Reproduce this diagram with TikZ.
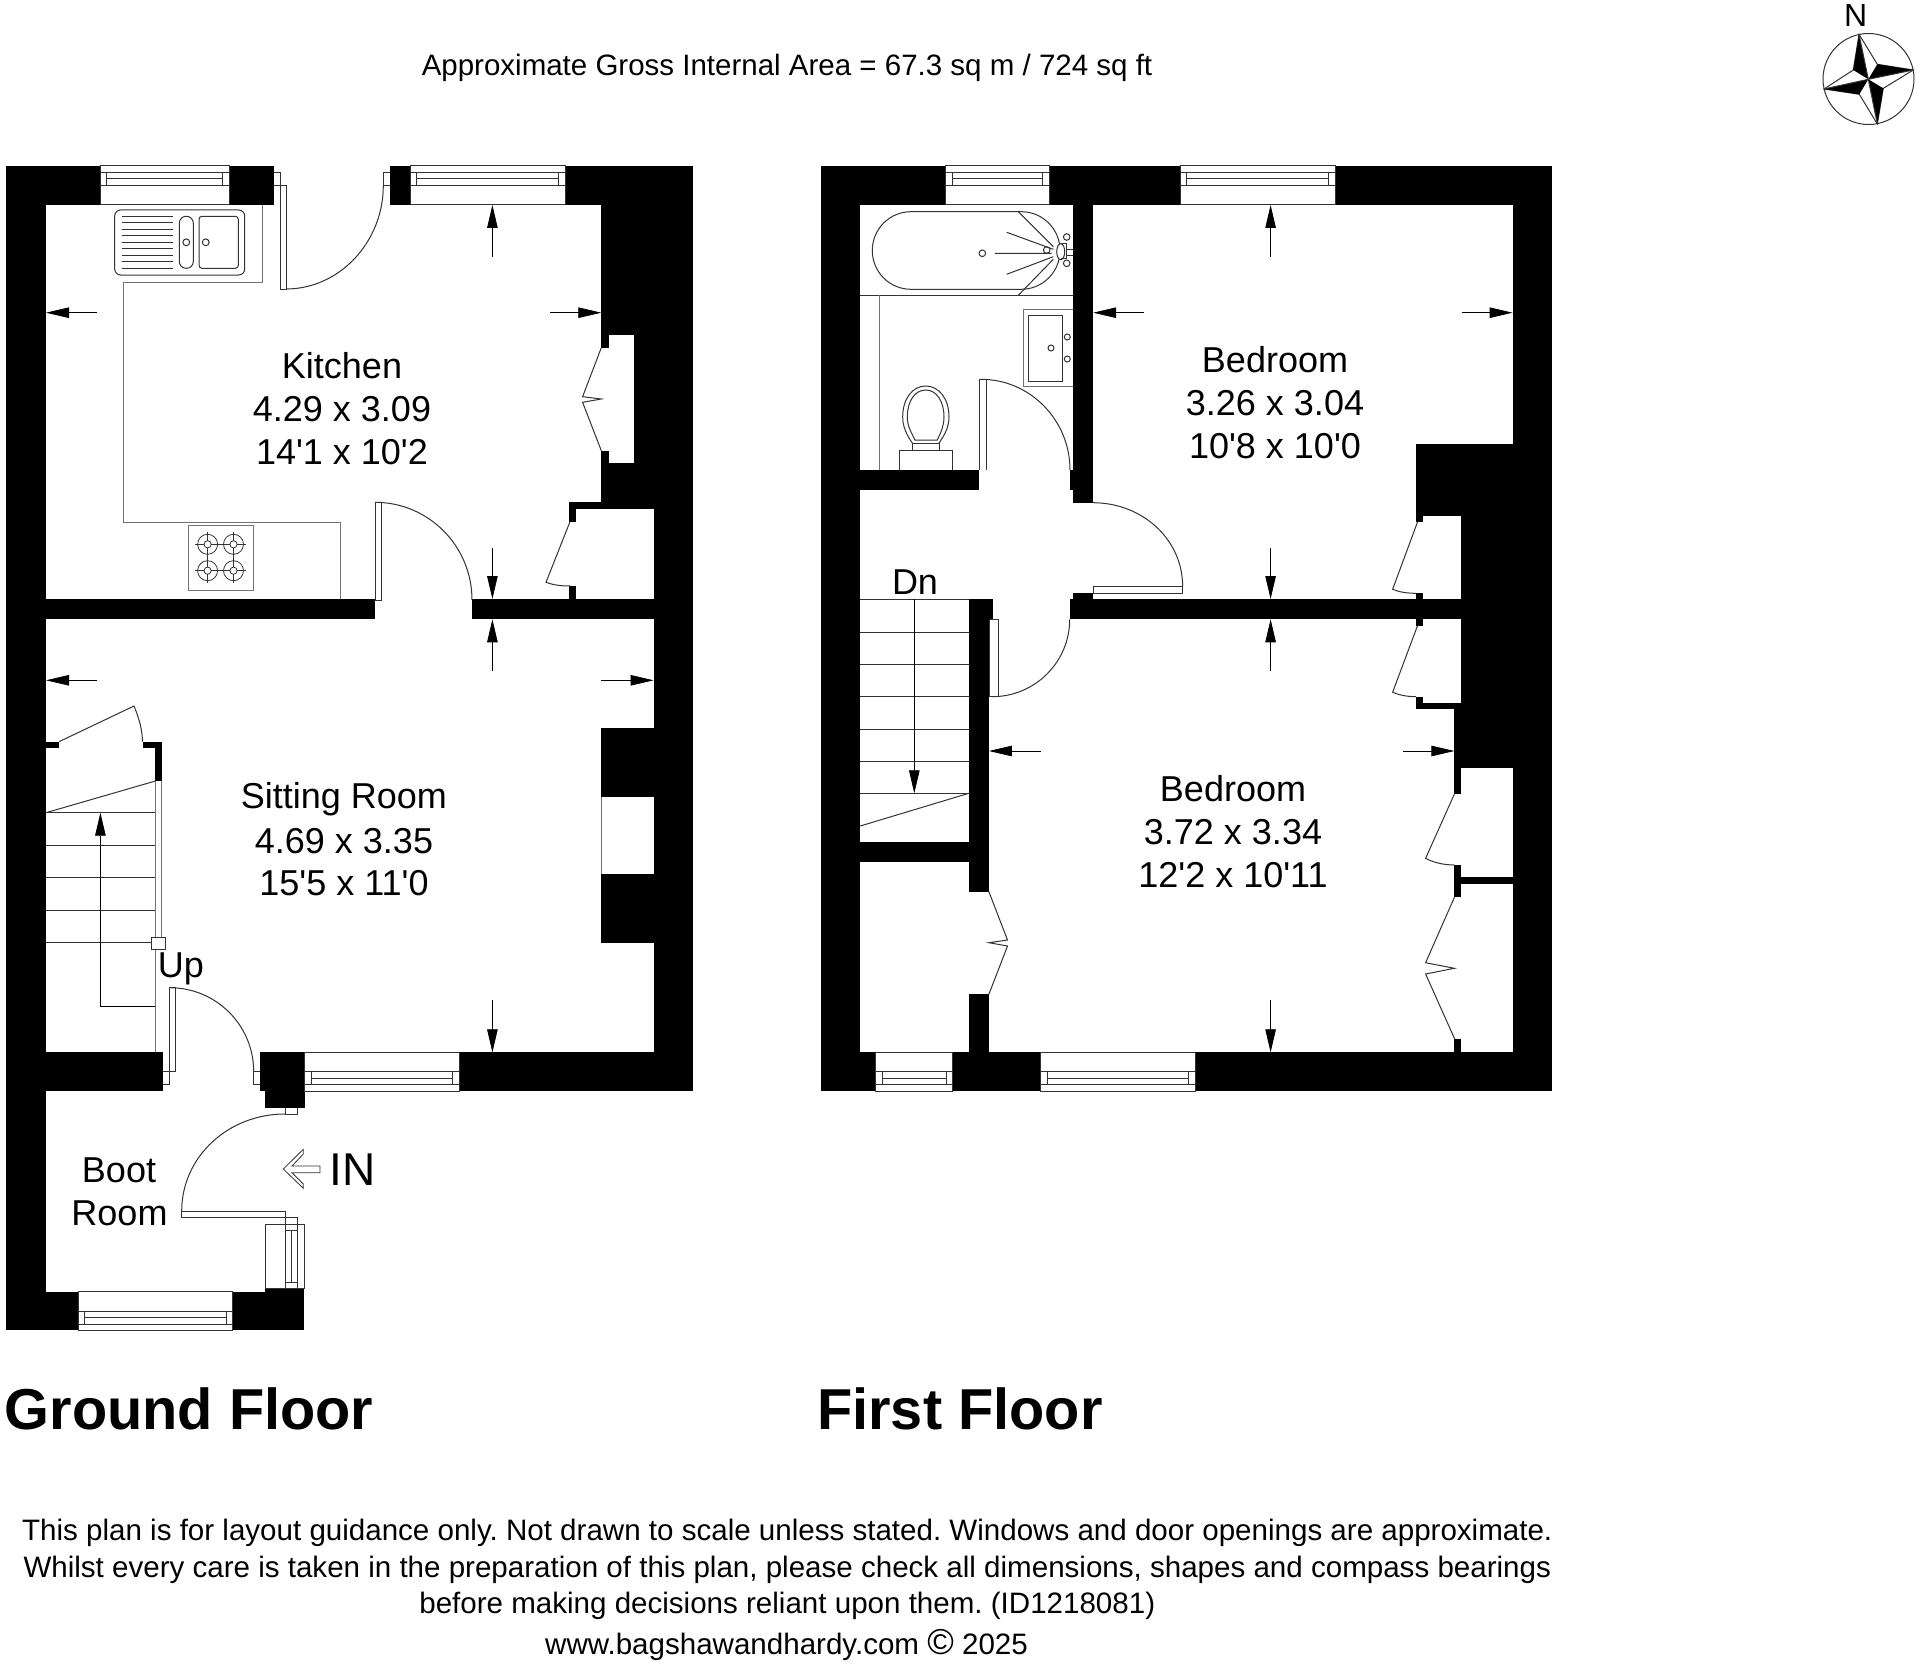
\documentclass[tikz,border=0pt]{standalone}
\usepackage{fontspec}
\setmainfont{Liberation Sans}[Ligatures=TeXOff]
\usetikzlibrary{arrows.meta}
\tikzset{
  ln/.style={line width=1pt,draw=black!80},
  lg/.style={line width=1pt,draw=black!55},
  dim/.style={line width=0.8pt,draw=black,-{Triangle[length=23pt,width=10.5pt,fill=black]}},
  room/.style={font=\fontsize{36}{36}\selectfont,inner sep=0pt,anchor=center},
  foot/.style={font=\fontsize{29.55}{29.55}\selectfont\frenchspacing,inner sep=0pt,anchor=center},
  floorlab/.style={font=\fontsize{57.7}{57.7}\selectfont\bfseries,inner sep=0pt,anchor=west},
}
\newcommand{\blk}[4]{\fill[black] (#1,#2) rectangle (#3,#4);}
% window in a top wall
\newcommand{\winT}[2]{%
  \draw[ln] (#1,165.7) rectangle (#2,205);
  \draw[ln] (#1,172.3)--(#2,172.3) (#1,185.7)--(#2,185.7);
  \draw[ln] (#1+6.5,178.7)--(#2-6.5,178.7);
  \draw[ln] (#1+6.5,172.3)--(#1+6.5,185.7) (#2-6.5,172.3)--(#2-6.5,185.7);}
% window in a bottom wall
\newcommand{\winB}[4]{%
  \draw[ln] (#1,#3) rectangle (#2,#4);
  \draw[ln] (#1,#4-19.3)--(#2,#4-19.3) (#1,#4-6.3)--(#2,#4-6.3);
  \draw[ln] (#1+6.5,#4-12.7)--(#2-6.5,#4-12.7);
  \draw[ln] (#1+6.5,#4-19.3)--(#1+6.5,#4-6.3) (#2-6.5,#4-19.3)--(#2-6.5,#4-6.3);}
\newcommand{\burner}[2]{%
  \draw[ln,line width=0.8pt] (#1,#2) circle (10) (#1,#2) circle (3.6);
  \draw[ln,line width=0.8pt] (#1-12.5,#2)--(#1-3.6,#2) (#1+3.6,#2)--(#1+12.5,#2) (#1,#2-12.5)--(#1,#2-3.6) (#1,#2+3.6)--(#1,#2+12.5);}
\begin{document}
\begin{tikzpicture}[x=1pt,y=-1pt]
\useasboundingbox (0,0) rectangle (1920,1664);
\fill[white] (0,0) rectangle (1920,1664);

% ---------- Ground floor walls
\blk{6.3}{165.7}{46}{1330.3}
\blk{6.3}{165.7}{100.4}{205}
\blk{229}{165.7}{274}{205}
\blk{389.7}{165.7}{410}{205}
\blk{565}{165.7}{693}{205}
\blk{601.3}{205}{693}{335}
\blk{634}{335}{693}{463.3}
\blk{601.3}{335}{609}{347.7}
\blk{601.3}{450.7}{609}{463.3}
\blk{601.3}{463.3}{693}{502.3}
\blk{569}{502.3}{693}{509.3}
\blk{569}{509.3}{576}{521.7}
\blk{569}{586}{576}{600}
\blk{653.6}{509.3}{693}{1091}
\blk{6.3}{599}{375}{619.3}
\blk{472}{599}{693}{619.3}
\blk{601.3}{728.3}{653.6}{797.3}
\blk{601.3}{874}{653.6}{942.7}
\blk{6.3}{1052.3}{163.4}{1091}
\blk{260}{1052.3}{304.7}{1091}
\blk{265}{1091}{304.7}{1107.7}
\blk{459.4}{1052.3}{693}{1091}
\blk{6.7}{1291.7}{78}{1330.3}
\blk{232.7}{1291.7}{304.3}{1330.3}
\blk{265.3}{1288.7}{304.3}{1291.7}
\blk{46}{741.7}{59}{748.3}
\blk{142.9}{741.7}{162}{748.3}
\blk{155.4}{748.3}{162}{781}

% windows
\winT{100.4}{229}
\winT{410}{565}
\winB{304.7}{459.4}{1052.3}{1091}
\winB{78}{232.7}{1291.7}{1330.3}

% worktop
\draw[lg] (262.5,205)--(262.5,282.7)--(123.2,282.7)--(123.2,522)--(340,522)--(340,599);
% sink
\draw[ln,rounded corners=6pt] (114.7,210) rectangle (244.7,275);
\draw[ln] (121.7,216.7)--(173.3,216.7) (121.7,223)--(173.3,223) (121.7,229.7)--(173.3,229.7) (121.7,236)--(173.3,236) (121.7,242.3)--(173.3,242.3) (121.7,248.7)--(173.3,248.7) (121.7,255.3)--(173.3,255.3) (121.7,261.7)--(173.3,261.7) (121.7,268)--(173.3,268);
\draw[ln,rounded corners=6.8pt] (179.3,216.3) rectangle (193.3,268.3);
\draw[ln,rounded corners=3pt] (199,216.3) rectangle (238.3,268.3);
\draw[ln] (186.3,242.3) circle (3.4) (205.7,242.3) circle (3.4);
% hob
\draw[lg] (188.4,525.3) rectangle (253.6,590);
\burner{207.6}{544.3}\burner{233.5}{544.3}\burner{207.6}{570.7}\burner{233.5}{570.7}
\draw[ln,line width=0.8pt] (217.6,544.3)--(223.5,544.3) (217.6,570.7)--(223.5,570.7) (207.6,554.3)--(207.6,560.7) (233.5,554.3)--(233.5,560.7);

% kitchen back door
\draw[ln] (273.7,172.3)--(280,172.3)--(280,289)--(286.3,289)--(286.3,185.7)--(273.7,185.7);
\draw[ln] (286,289) .. controls (339.5,289) and (383.3,242) .. (383.3,185.7);
\draw[ln] (383.3,172.3)--(389.7,172.3) (383.3,172.3)--(383.3,185.7)--(389.7,185.7);
% kitchen to sitting door
\draw[ln] (375,502.3)--(381.7,502.3)--(381.7,600)--(375,600)--cycle;
\draw[ln] (375,502.3) .. controls (428.6,502.3) and (472,546) .. (472,600);
% kitchen cupboards
\draw[ln] (601.3,347.7)--(582.6,396.7)--(601.3,399)--(582.6,402.3)--(601.3,450.7);
\draw[ln] (570,521.7)--(546,582.3) .. controls (553,585) and (561,586) .. (570,586);

% fireplace
\draw[lg] (601.3,797.3)--(601.3,874);
% stairs
\draw[lg] (155.4,781)--(155.4,937.7) (161.6,781)--(161.6,937.7) (155.4,949)--(155.4,1052.3);
\draw[ln] (151.8,937.7) rectangle (165.2,949);
\draw[ln] (46,812.7)--(155.4,781);
\draw[ln] (46,812.7)--(155.4,812.7) (46,845.3)--(155.4,845.3) (46,877.7)--(155.4,877.7) (46,910)--(155.4,910) (46,942.3)--(151.8,942.3);
\draw[dim] (155.4,1006)--(100.4,1006)--(100.4,812.7);
\draw[ln] (59,741.7)--(134,706) .. controls (139,718) and (142.4,730) .. (142.4,741.7);
% door to boot room
\draw[ln] (163.4,1071.7)--(175.9,1071.7)--(175.9,987.7)--(169.8,987.7)--(169.8,1084.3)--(163.4,1084.3);
\draw[ln] (169.8,987.7) .. controls (216,987.7) and (253.7,1025) .. (253.7,1071.7);
\draw[ln] (260,1071.7)--(253.7,1071.7)--(253.7,1084.3)--(260,1084.3);
% boot room door
\draw[ln] (285,1107.7)--(285,1114)--(297.3,1114)--(297.3,1107.7);
\draw[ln] (285,1114) .. controls (228,1114) and (181.7,1157) .. (181.7,1211);
\draw[ln] (181.7,1211)--(285,1211)--(285,1288.7) (181.7,1211)--(181.7,1217.3)--(285,1217.3) (285,1217.7)--(297.3,1217.7)--(297.3,1288.7);
% boot room side window
\draw[ln] (265.3,1224) rectangle (304.3,1288.7);
\draw[ln] (291,1230)--(291,1282.3) (285,1230)--(297.3,1230) (285,1282.3)--(297.3,1282.3);

% IN arrow
\draw[ln,line width=0.8pt] (283.3,1169)--(303.3,1149.3)--(303.3,1154)--(292,1166)--(320,1166)--(320,1172.7)--(292,1172.7)--(303.3,1184)--(303.3,1188.3)--cycle;

% dimension arrows: ground
\coordinate (ka) at (492.4,256.7); \coordinate (kb) at (492.4,205); \draw[dim] (ka)--(kb);
\coordinate (kc) at (97.3,312.7); \coordinate (kd) at (46,312.7); \draw[dim] (kc)--(kd);
\coordinate (ke) at (550.4,312.7); \coordinate (kf) at (601.3,312.7); \draw[dim] (ke)--(kf);
\coordinate (kg) at (492.4,547.7); \coordinate (kh) at (492.4,599); \draw[dim] (kg)--(kh);
\coordinate (sa) at (492.4,671); \coordinate (sb) at (492.4,619.3); \draw[dim] (sa)--(sb);
\coordinate (sc) at (97.3,680.3); \coordinate (sd) at (46,680.3); \draw[dim] (sc)--(sd);
\coordinate (se) at (601.3,680.3); \coordinate (sf) at (653.6,680.3); \draw[dim] (se)--(sf);
\coordinate (sg) at (492.4,1000); \coordinate (sh) at (492.4,1052.3); \draw[dim] (sg)--(sh);

% ---------- First floor walls
\blk{820.5}{165.7}{860.2}{1091}
\blk{820.5}{165.7}{945.8}{205}
\blk{1049.2}{165.7}{1180.2}{205}
\blk{1335.2}{165.7}{1552.3}{205}
\blk{1512.6}{205}{1552.3}{444}
\blk{1416}{444}{1552.3}{515.7}
\blk{1461}{515.7}{1552.3}{709.3}
\blk{1416}{702.7}{1461}{709.3}
\blk{1416}{515.7}{1423.2}{521.7}
\blk{1416}{593}{1423.2}{599}
\blk{1069.7}{599}{1552.3}{619.3}
\blk{1416}{619.3}{1423.2}{625.7}
\blk{1416}{696.7}{1423.2}{702.7}
\blk{1454.4}{709.3}{1552.3}{767.7}
\blk{1454.4}{767.7}{1461}{794}
\blk{1454.4}{865}{1461}{897.3}
\blk{1461}{877.3}{1512.6}{884.3}
\blk{1454.4}{1039.3}{1461}{1052.3}
\blk{1512.6}{767.7}{1552.3}{1091}
\blk{1072.6}{205}{1093.2}{502.7}
\blk{1069.7}{470}{1072.6}{490}
\blk{860}{470}{979.3}{490}
\blk{1072.6}{592.7}{1093.2}{599}
\blk{968.8}{599.3}{992.7}{619.3}
\blk{968.8}{619.3}{988.9}{891.7}
\blk{968.8}{994.3}{988.9}{1052.3}
\blk{860}{842.3}{968.8}{862.3}
\blk{820.5}{1052.3}{875.5}{1091}
\blk{952.5}{1052.3}{1040.5}{1091}
\blk{1195}{1052.3}{1552.3}{1091}
% windows
\winT{945.8}{1049.2}
\winT{1180.2}{1335.2}
\winB{875.5}{952.5}{1052.3}{1091}
\winB{1040.5}{1195}{1052.3}{1091}

% bathroom
\draw[ln] (860.2,295.3)--(1072.6,295.3);
\draw[lg] (879,295.3)--(879,470);
\draw[ln,rounded corners=38.7pt] (872.3,211.7) rectangle (1060,289.3);
\draw[ln] (1018.3,211.7)--(1053.3,246.7) (1006.7,232.3)--(1053.3,249.3) (995,253.3)--(1051.7,253.3) (1006.7,274.3)--(1053.3,256.7) (1018.3,295.3)--(1053.3,259.3);
\draw[ln] (982.3,253.3) circle (3.3) (1046.7,250) circle (3.3) (1066.7,237) circle (3.3) (1066.7,263.3) circle (3.3);
\fill[white] (1060.7,251.7) ellipse (4 and 8);
\draw[ln] (1060.7,251.7) ellipse (4 and 8);
\draw[ln] (1060.7,243.3)--(1066.7,243.3)--(1066.7,258.3)--(1060.7,258.3);
\draw[ln] (1066.7,250)--(1072.6,250) (1066.7,255.7)--(1072.6,255.7);
% basin
\draw[lg] (1072.6,309.3)--(1023.7,309.3)--(1023.7,386.7)--(1072.6,386.7);
\draw[ln] (1028.7,315) rectangle (1062,381.7);
\draw[ln] (1067.3,337) circle (3) (1067.3,359) circle (3) (1051,348) circle (3);
% WC
\draw[ln] (899.7,470)--(899.7,450.7)--(952,450.7)--(952,470);
\draw[ln] (912.3,450.7)--(912.3,443) (939,450.7)--(939,443) (912.3,443)--(939,443);
\draw[ln] (912.3,443) .. controls (906,434) and (902.7,426) .. (902.7,417) .. controls (902.7,398) and (913,386) .. (925.7,386) .. controls (938.4,386) and (949,398) .. (949,417) .. controls (949,426) and (945.5,434) .. (939,443);
\draw[ln] (915,440) .. controls (911,432) and (907.3,426) .. (907.3,417) .. controls (907.3,401) and (915,390) .. (925.7,390) .. controls (936.4,390) and (944,401) .. (944,417) .. controls (944,426) and (941,432) .. (937.3,440) -- cycle;
% bathroom door
\draw[ln] (979.3,470)--(979.3,379.3)--(986,379.3)--(986,470);
\draw[ln] (981,379.3) .. controls (1030,379.3) and (1070,420) .. (1070,470);
% bedroom 1 door
\draw[ln] (1092.7,502.7) .. controls (1143,502.7) and (1182.6,540) .. (1182.6,586);
\draw[ln] (1093.2,586) rectangle (1182.6,593.3);
% stairs door
\draw[ln] (989.8,619.3) rectangle (998.5,696.7);
\draw[ln] (992,696.7) .. controls (1035,696.7) and (1069.7,662) .. (1069.7,619.3);
% stairs
\draw[ln] (860.2,599.3)--(968.8,599.3) (860.2,632)--(968.8,632) (860.2,664.3)--(968.8,664.3) (860.2,696.7)--(968.8,696.7) (860.2,729)--(968.8,729) (860.2,761.3)--(968.8,761.3) (860.2,793.3)--(968.8,793.3);
\draw[ln] (860.2,826)--(968.8,793.3);
\coordinate (fa) at (914.3,599.3); \coordinate (fb) at (914.3,793.3); \draw[dim] (fa)--(fb);
% cupboards first floor
\draw[ln] (1417.5,522)--(1392.6,589.3) .. controls (1399,592) and (1407,593.3) .. (1416,593.3);
\draw[ln] (1417.5,625.7)--(1392.6,692.3) .. controls (1399,695) and (1407,696.7) .. (1416,696.7);
\draw[ln] (1454.4,794)--(1425.6,858.3) .. controls (1432,862) and (1443,865) .. (1454.4,865);
\draw[ln] (1454.4,897.3)--(1425.6,962.7)--(1454.4,968.3)--(1425.6,974)--(1454.8,1039.3);
\draw[ln] (988.9,891.7)--(1007.5,940)--(988.9,942.7)--(1007.5,946)--(988.9,994.3);

% dimension arrows: first floor
\coordinate (aa) at (1270.6,256.7); \coordinate (ab) at (1270.6,205); \draw[dim] (aa)--(ab);
\coordinate (ac) at (1143.9,312.7); \coordinate (ad) at (1093.2,312.7); \draw[dim] (ac)--(ad);
\coordinate (ae) at (1461.5,312.7); \coordinate (af) at (1512.6,312.7); \draw[dim] (ae)--(af);
\coordinate (ag) at (1270.6,547.7); \coordinate (ah) at (1270.6,599); \draw[dim] (ag)--(ah);
\coordinate (ba) at (1270.6,671); \coordinate (bb) at (1270.6,619.3); \draw[dim] (ba)--(bb);
\coordinate (bc) at (1040.5,751); \coordinate (bd) at (988.9,751); \draw[dim] (bc)--(bd);
\coordinate (be) at (1403,751); \coordinate (bf) at (1454.4,751); \draw[dim] (be)--(bf);
\coordinate (bg) at (1270.6,1000); \coordinate (bh) at (1270.6,1052.3); \draw[dim] (bg)--(bh);

% compass
\draw[ln] (1868.5,79) circle (45.5);
\draw[ln,fill=white] (1859,34.3)--(1877.3,64.3)--(1913.3,70)--(1883.3,88.3)--(1877.3,124)--(1859.3,94.3)--(1824,89)--(1853.3,70)--cycle;
\fill[black] (1859,34.3)--(1853.3,70)--(1868.3,79.3)--cycle;
\fill[black] (1913.3,70)--(1877.3,64.3)--(1868.3,79.3)--cycle;
\fill[black] (1877.3,124)--(1883.3,88.3)--(1868.3,79.3)--cycle;
\fill[black] (1824,89)--(1859.3,94.3)--(1868.3,79.3)--cycle;
\draw[ln] (1859,34.3)--(1868.3,79.3)--(1913.3,70) (1877.3,124)--(1868.3,79.3)--(1824,89);
\node[inner sep=0pt,font=\fontsize{32}{32}\selectfont] (north) at (1855.7,15) {N};

% labels
\node[inner sep=0pt,font=\fontsize{29.5}{29.5}\selectfont] (title) at (787,67.5) {Approximate Gross Internal Area = 67.3 sq m / 724 sq ft};
\node[room] (k1) at (342,366) {Kitchen};
\node[room] (k2) at (342,409) {4.29 x 3.09};
\node[room] (k3) at (342,452) {14'1 x 10'2};
\node[room] (s1) at (344,799.5) {Sitting Room};
\node[room] (s2) at (344,841) {4.69 x 3.35};
\node[room] (s3) at (344,883) {15'5 x 11'0};
\node[room] (up) at (181,968.5) {Up};
\node[room] (dn) at (915,581.7) {Dn};
\node[room] (b1) at (119,1170) {Boot};
\node[room] (b2) at (119.5,1213) {Room};
\node[inner sep=0pt,font=\fontsize{46}{46}\selectfont] (inlab) at (352.5,1170) {IN};
\node[room] (r1) at (1275,360) {Bedroom};
\node[room] (r2) at (1275,403) {3.26 x 3.04};
\node[room] (r3) at (1275,446) {10'8 x 10'0};
\node[room] (q1) at (1233,789) {Bedroom};
\node[room] (q2) at (1233,832) {3.72 x 3.34};
\node[room] (q3) at (1233,875) {12'2 x 10'11};
\node[floorlab] (gf) at (4.5,1409) {Ground Floor};
\node[floorlab] (ff) at (817,1409) {First Floor};
\node[foot] (l1) at (787.3,1533) {This plan is for layout guidance only. Not drawn to scale unless stated. Windows and door openings are approximate.};
\node[foot] (l2) at (787.3,1569.5) {Whilst every care is taken in the preparation of this plan, please check all dimensions, shapes and compass bearings};
\node[foot] (l3) at (787.3,1606) {before making decisions reliant upon them. (ID1218081)};
\node[foot] (l4) at (786.5,1645) {www.bagshawandhardy.com {\fontsize{36}{36}\selectfont ©} 2025};
\end{tikzpicture}
\end{document}
